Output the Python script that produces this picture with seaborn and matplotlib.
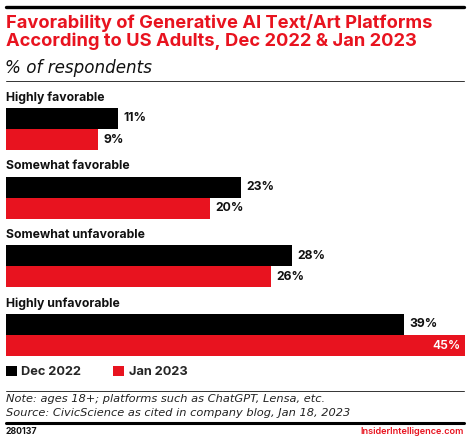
import numpy as np
import pandas as pd
import matplotlib
matplotlib.use('Agg')
import matplotlib.pyplot as plt
import seaborn as sns
from matplotlib.lines import Line2D

# 数据
categories = ['Highly favorable', 'Somewhat favorable', 'Somewhat unfavorable', 'Highly unfavorable']
periods = ['Dec 2022', 'Jan 2023']
dec_2022 = [11, 23, 28, 39]
jan_2023 = [9, 20, 26, 45]

RED = '#e8131f'
BLACK = '#000000'

df = pd.DataFrame({
    'category': categories * 2,
    'period': [periods[0]] * 4 + [periods[1]] * 4,
    'value': dec_2022 + jan_2023,
})

sns.set_theme(style='white')
plt.rcParams['font.family'] = ['Inter', 'DejaVu Sans']

W, H = 470, 443
fig = plt.figure(figsize=(W / 100, H / 100), dpi=100)

def fy(px):
    return 1 - px / H

def fx(px):
    return px / W

# 坐标轴位置（像素）
ax_left, ax_right = 6, 465
ax_top, ax_bot = 80, 360
ax = fig.add_axes([fx(ax_left), fy(ax_bot), fx(ax_right - ax_left), (ax_bot - ax_top) / H])

bar_w = 0.615
sns.barplot(data=df, y='category', x='value', hue='period', orient='h',
            palette=[BLACK, RED], width=bar_w, saturation=1, gap=0,
            dodge=True, ax=ax, linewidth=0)

c0 = 129
step = 68.67
ax.set_ylim((ax_bot - c0) / step, (ax_top - c0) / step)
ax.set_xlim(0, 45)
ax.set_axis_off()

handles, labels = ax.get_legend_handles_labels()
ax.legend_.remove()

# 类别标签
for i, cat in enumerate(categories):
    ax.annotate(cat, xy=(0, i - bar_w / 2), xytext=(0, 3), textcoords='offset points',
                ha='left', va='bottom', fontsize=8.8, fontweight='bold', color='#111111')

# 数值标签
for cont, vals, col in zip(ax.containers, [dec_2022, jan_2023], [BLACK, RED]):
    for rect, v in zip(cont, vals):
        yc = rect.get_y() + rect.get_height() / 2
        if v == max(dec_2022 + jan_2023):
            ax.annotate(f'{v}%', xy=(v, yc), xytext=(-3, 0), textcoords='offset points',
                        ha='right', va='center', fontsize=8.8, fontweight='semibold', color='white')
        else:
            ax.annotate(f'{v}%', xy=(v, yc), xytext=(4, 0), textcoords='offset points',
                        ha='left', va='center', fontsize=8.8, fontweight='bold', color='#111111')

# 图例
fig.legend(handles, labels, loc='center left', bbox_to_anchor=(fx(1), fy(372)), ncol=2,
           frameon=False, handlelength=0.85, handleheight=0.85, handletextpad=0.35,
           columnspacing=2.5, borderaxespad=0, prop={'size': 9.2, 'weight': 'bold'})

# 标题
fig.text(fx(6), fy(14), 'Favorability of Generative AI Text/Art Platforms\nAccording to US Adults, Dec 2022 & Jan 2023',
         ha='left', va='top', fontsize=13.2, fontweight='bold', color=RED, linespacing=1.0)
fig.text(fx(5), fy(73), '% of respondents', ha='left', va='baseline', fontsize=12.1,
         fontstyle='italic', family=['DejaVu Sans'], color='#111111')

# 注释
note_font = dict(ha='left', va='baseline', fontsize=8.2, fontstyle='italic',
                 family=['DejaVu Sans'], color='#222222')
fig.text(fx(6), fy(402.5), 'Note: ages 18+; platforms such as ChatGPT, Lensa, etc.', **note_font)
fig.text(fx(6), fy(415.5), 'Source: CivicScience as cited in company blog, Jan 18, 2023', **note_font)
fig.text(fx(6), fy(432), '280137', ha='left', va='center', fontsize=6.3, fontweight='bold', color='#111111')
fig.text(fx(464), fy(432), 'InsiderIntelligence.com', ha='right', va='center', fontsize=6.6,
         fontweight='semibold', color=RED)

# 分隔线
fig.add_artist(Line2D([fx(6), fx(464)], [fy(7), fy(7)], color=BLACK, linewidth=2.4))
fig.add_artist(Line2D([fx(6), fx(464)], [fy(80.5), fy(80.5)], color='#333333', linewidth=0.7))
fig.add_artist(Line2D([fx(6), fx(464)], [fy(391), fy(391)], color='#333333', linewidth=0.7))
fig.add_artist(Line2D([fx(6), fx(464)], [fy(423), fy(423)], color=BLACK, linewidth=2.2))

plt.savefig('out.png', dpi=100)
